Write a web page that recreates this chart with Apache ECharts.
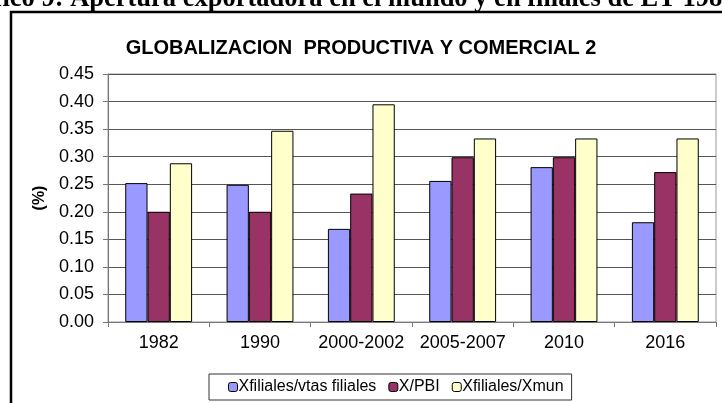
<!DOCTYPE html>
<html>
<head>
<meta charset="utf-8">
<script src="https://cdn.jsdelivr.net/npm/echarts@6/dist/echarts.min.js"></script>
<style>
  html, body { margin: 0; padding: 0; background: #fff; }
  #chart { width: 722px; height: 403px; }
</style>
</head>
<body>
<div id="chart"></div>
<script>
// datos
var categorias = ['1982', '1990', '2000-2002', '2005-2007', '2010', '2016'];
var filialesVtas = [0.252, 0.249, 0.169, 0.256, 0.281, 0.181];
var xPbi = [0.200, 0.200, 0.233, 0.299, 0.299, 0.272];
var filialesXmun = [0.288, 0.347, 0.395, 0.333, 0.333, 0.333];
var nombres = ['Xfiliales/vtas filiales', 'X/PBI', 'Xfiliales/Xmun'];
var colores = ['#9999FF', '#993366', '#FFFFCC'];

var chart = echarts.init(document.getElementById('chart'));

function serie(i, datos) {
  return {
    name: nombres[i],
    type: 'bar',
    data: datos,
    barGap: '0%',
    barCategoryGap: '34%',
    itemStyle: { color: colores[i], borderColor: '#000', borderWidth: 1 }
  };
}

var opciones = {
  animation: false,
  textStyle: { fontFamily: 'Liberation Sans, Arial, sans-serif' },
  title: {
    text: 'GLOBALIZACION  PRODUCTIVA Y COMERCIAL 2',
    left: 'center',
    top: 33,
    textStyle: { fontSize: 20, fontWeight: 'bold', color: '#000', fontFamily: 'Liberation Sans, Arial, sans-serif' }
  },
  graphic: [
    {
      type: 'rect',
      shape: { x: 11, y: 12, width: 740, height: 420 },
      style: { fill: 'none', stroke: '#000', lineWidth: 2.5 },
      silent: true
    },
    {
      type: 'text',
      left: -52,
      top: -14,
      style: {
        text: 'Gráfico 9: Apertura exportadora en el mundo y en filiales de ET 1982-2016',
        font: 'bold 26.5px "Liberation Serif", "Times New Roman", serif',
        fill: '#000'
      },
      silent: true
    }
  ],
  legend: {
    data: nombres,
    left: 209,
    top: 374,
    padding: [5, 8, 5, 19],
    itemWidth: 9,
    itemHeight: 9,
    itemGap: 12,
    borderColor: '#333',
    borderWidth: 1,
    backgroundColor: '#fff',
    itemStyle: { borderColor: '#000', borderWidth: 1 },
    textStyle: { fontSize: 16, color: '#000', padding: [0, 0, 0, -4] }
  },
  grid: {
    left: 108,
    right: 6,
    top: 74,
    bottom: 81,
    show: true,
    borderColor: '#999',
    borderWidth: 1
  },
  xAxis: {
    type: 'category',
    data: categorias,
    axisLine: { lineStyle: { color: '#777', width: 1 } },
    axisTick: { show: true, length: 5, lineStyle: { color: '#777' } },
    axisLabel: { fontSize: 18, color: '#000', margin: 12, interval: 0 }
  },
  yAxis: {
    type: 'value',
    min: 0,
    max: 0.45,
    interval: 0.05,
    name: '(%)',
    nameLocation: 'middle',
    nameGap: 53,
    nameRotate: 90,
    nameTextStyle: { fontSize: 16, fontWeight: 'bold', color: '#000' },
    axisLine: { show: true, lineStyle: { color: '#777', width: 1 } },
    axisTick: { show: true, length: 5, lineStyle: { color: '#777' } },
    axisLabel: {
      fontSize: 18,
      color: '#000',
      margin: 14,
      formatter: function (v) { return v.toFixed(2); }
    },
    splitLine: { lineStyle: { color: '#555', width: 1 } }
  },
  series: [
    serie(0, filialesVtas),
    serie(1, xPbi),
    serie(2, filialesXmun)
  ]
};

chart.setOption(opciones);
</script>
</body>
</html>
